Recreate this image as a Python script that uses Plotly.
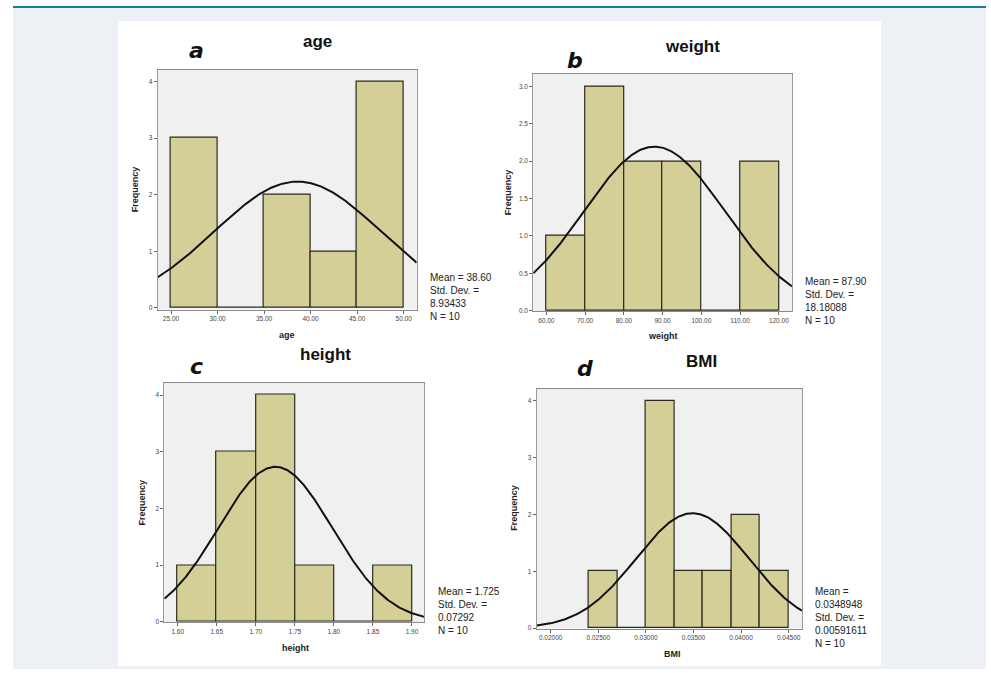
import numpy as np
import plotly.graph_objects as go

W, H = 991, 673

# ---------------- data ----------------
age_edges = [25, 30, 35, 40, 45, 50]
age_counts = [3, 0, 2, 1, 4]
age_stats = dict(mean=38.60, sd=8.93433, n=10)

weight_edges = [60, 70, 80, 90, 100, 110, 120]
weight_counts = [1, 3, 2, 2, 0, 2]
weight_stats = dict(mean=87.90, sd=18.18088, n=10)

height_edges = [1.60, 1.65, 1.70, 1.75, 1.80, 1.85, 1.90]
height_counts = [1, 3, 4, 1, 0, 1]
height_stats = dict(mean=1.725, sd=0.07292, n=10)

bmi_edges = [0.024, 0.027, 0.030, 0.033, 0.036, 0.039, 0.042, 0.045]
bmi_counts = [1, 0, 4, 1, 1, 2, 1]
bmi_stats = dict(mean=0.0348948, sd=0.00591611, n=10)

age_xticks = [25, 30, 35, 40, 45, 50]
age_xtext = ["25.00", "30.00", "35.00", "40.00", "45.00", "50.00"]
weight_xticks = [60, 70, 80, 90, 100, 110, 120]
weight_xtext = ["60.00", "70.00", "80.00", "90.00", "100.00", "110.00", "120.00"]
height_xticks = [1.60, 1.65, 1.70, 1.75, 1.80, 1.85, 1.90]
height_xtext = ["1.60", "1.65", "1.70", "1.75", "1.80", "1.85", "1.90"]
bmi_xticks = [0.020, 0.025, 0.030, 0.035, 0.040, 0.045]
bmi_xtext = ["0.02000", "0.02500", "0.03000", "0.03500", "0.04000", "0.04500"]

int_yticks = [0, 1, 2, 3, 4]
int_ytext = ["0", "1", "2", "3", "4"]
half_yticks = [0, 0.5, 1.0, 1.5, 2.0, 2.5, 3.0]
half_ytext = ["0.0", "0.5", "1.0", "1.5", "2.0", "2.5", "3.0"]

stats_texts = [
    "Mean = 38.60<br>Std. Dev. =<br>8.93433<br>N = 10",
    "Mean = 87.90<br>Std. Dev. =<br>18.18088<br>N = 10",
    "Mean = 1.725<br>Std. Dev. =<br>0.07292<br>N = 10",
    "Mean =<br>0.0348948<br>Std. Dev. =<br>0.00591611<br>N = 10",
]

# ---------------- layout helpers ----------------
def px_x(x):
    return x / W

def px_y(y):
    return 1 - y / H

BAR_FILL = "#d4cf97"
BAR_LINE = "#2a2a20"
PLOT_BG = "#f0f0f0"

panels = [
    dict(edges=age_edges, counts=age_counts, st=age_stats, title="age", letter="a", xtitle="age",
         xt=age_xticks, xtt=age_xtext, yt=int_yticks, ytt=int_ytext,
         box=(157.7, 70, 416.7, 311), xr=[23.57, 51.4], yr=[-0.03, 4.21],
         title_xy=(317.7, 42), letter_xy=(196, 51), xtitle_xy=(286.7, 336), ytitle_xy=(135, 190),
         stats_xy=(428, 271)),
    dict(edges=weight_edges, counts=weight_counts, st=weight_stats, title="weight", letter="b", xtitle="weight",
         xt=weight_xticks, xtt=weight_xtext, yt=half_yticks, ytt=half_ytext,
         box=(533.3, 74, 792, 312.5), xr=[56.64, 123.4], yr=[-0.005, 3.17],
         title_xy=(692, 47), letter_xy=(575, 61), xtitle_xy=(663, 338), ytitle_xy=(508, 193),
         stats_xy=(803, 275)),
    dict(edges=height_edges, counts=height_counts, st=height_stats, title="height", letter="c", xtitle="height",
         xt=height_xticks, xtt=height_xtext, yt=int_yticks, ytt=int_ytext,
         box=(164.3, 384.3, 424.3, 625), xr=[1.5828, 1.9158], yr=[-0.005, 4.22],
         title_xy=(325.7, 356), letter_xy=(196, 368), xtitle_xy=(295, 651), ytitle_xy=(141.7, 505),
         stats_xy=(436, 587)),
    dict(edges=bmi_edges, counts=bmi_counts, st=bmi_stats, title="BMI", letter="d", xtitle="BMI",
         xt=bmi_xticks, xtt=bmi_xtext, yt=int_yticks, ytt=int_ytext,
         box=(536.7, 390.7, 802, 631.5), xr=[0.01853, 0.0464], yr=[-0.01, 4.21],
         title_xy=(701, 363), letter_xy=(585, 370), xtitle_xy=(672, 657), ytitle_xy=(514, 510),
         stats_xy=(813, 587)),
]

fig = go.Figure()
layout = {}
annotations = []
shapes = [
    dict(type="rect", xref="paper", yref="paper", x0=px_x(13), x1=px_x(986), y0=px_y(672), y1=px_y(8),
         fillcolor="#edf1f5", line=dict(width=0), layer="below"),
    dict(type="rect", xref="paper", yref="paper", x0=px_x(118), x1=px_x(881), y0=px_y(669), y1=px_y(21),
         fillcolor="#ffffff", line=dict(width=0), layer="below"),
    dict(type="line", xref="paper", yref="paper", x0=px_x(13), x1=px_x(986), y0=px_y(7), y1=px_y(7),
         line=dict(color="#127f9e", width=2), layer="below"),
]

for i, p in enumerate(panels, start=1):
    xa = "x" if i == 1 else f"x{i}"
    ya = "y" if i == 1 else f"y{i}"
    xkey = "xaxis" if i == 1 else f"xaxis{i}"
    ykey = "yaxis" if i == 1 else f"yaxis{i}"
    edges = np.array(p["edges"], dtype=float)
    centers = (edges[:-1] + edges[1:]) / 2
    widths = np.diff(edges)
    fig.add_trace(go.Bar(
        x=centers, y=p["counts"], width=widths, xaxis=xa, yaxis=ya,
        marker=dict(color=BAR_FILL, line=dict(color=BAR_LINE, width=1.2)),
        showlegend=False, hoverinfo="skip"))
    st = p["st"]
    bw = widths[0]
    xs = np.linspace(p["xr"][0], p["xr"][1], 300)
    ys = st["n"] * bw / (st["sd"] * np.sqrt(2 * np.pi)) * np.exp(-0.5 * ((xs - st["mean"]) / st["sd"]) ** 2)
    fig.add_trace(go.Scatter(x=xs, y=ys, mode="lines", xaxis=xa, yaxis=ya,
                             line=dict(color="#111111", width=2), showlegend=False, hoverinfo="skip"))
    x0, y0, x1, y1 = p["box"]
    # gray plot-area background (drawn above the white page rect)
    shapes.append(dict(type="rect", xref="paper", yref="paper", x0=px_x(x0), x1=px_x(x1),
                       y0=px_y(y1), y1=px_y(y0), fillcolor=PLOT_BG, line=dict(width=0), layer="below"))
    layout[xkey] = dict(domain=[px_x(x0), px_x(x1)], range=p["xr"], anchor=ya,
                        tickvals=p["xt"], ticktext=p["xtt"], ticks="outside", ticklen=3,
                        tickcolor="#666", tickfont=dict(size=6.5, color="#444", family="Liberation Sans"),
                        showline=True, linecolor="#8a8a8a", linewidth=1, mirror=True,
                        showgrid=False, zeroline=False, fixedrange=True)
    layout[ykey] = dict(domain=[px_y(y1), px_y(y0)], range=p["yr"], anchor=xa,
                        tickvals=p["yt"], ticktext=p["ytt"], ticks="outside", ticklen=3,
                        tickcolor="#666", tickfont=dict(size=6.5, color="#444", family="Liberation Sans"),
                        showline=True, linecolor="#9a9a9a", linewidth=1, mirror=True,
                        showgrid=False, zeroline=False, fixedrange=True)
    tx, ty = p["title_xy"]
    annotations.append(dict(text=p["title"], x=px_x(tx), y=px_y(ty), xref="paper", yref="paper",
                            xanchor="center", yanchor="middle", showarrow=False,
                            font=dict(size=17, color="#111", family="Liberation Sans", weight="bold")))
    lx, ly = p["letter_xy"]
    annotations.append(dict(text=p["letter"], x=px_x(lx), y=px_y(ly), xref="paper", yref="paper",
                            xanchor="center", yanchor="middle", showarrow=False,
                            font=dict(size=22, color="#111", family="DejaVu Sans", weight="bold", style="italic")))
    ax_, ay_ = p["xtitle_xy"]
    annotations.append(dict(text=p["xtitle"], x=px_x(ax_), y=px_y(ay_), xref="paper", yref="paper",
                            xanchor="center", yanchor="middle", showarrow=False,
                            font=dict(size=9, color="#222", family="Liberation Sans", weight="bold")))
    fx, fy = p["ytitle_xy"]
    annotations.append(dict(text="Frequency", x=px_x(fx), y=px_y(fy), xref="paper", yref="paper",
                            xanchor="center", yanchor="middle", showarrow=False, textangle=-90,
                            font=dict(size=9, color="#222", family="Liberation Sans", weight="bold")))
    sx, sy = p["stats_xy"]
    annotations.append(dict(text=stats_texts[i - 1], x=px_x(sx), y=px_y(sy), xref="paper", yref="paper",
                            xanchor="left", yanchor="top", align="left", showarrow=False,
                            font=dict(size=10, color="#222", family="Liberation Sans")))

fig.update_layout(
    width=W, height=H, margin=dict(l=0, r=0, t=0, b=0),
    paper_bgcolor="#ffffff", plot_bgcolor=PLOT_BG,
    bargap=0, barmode="overlay",
    annotations=annotations, shapes=shapes, showlegend=False,
    **layout,
)

fig.write_html("out.html", config={"displayModeBar": False})
